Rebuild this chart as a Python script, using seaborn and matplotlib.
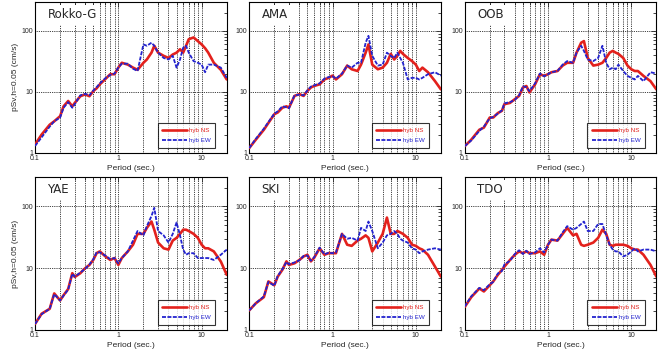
import matplotlib
matplotlib.use("Agg")
import matplotlib.pyplot as plt
import pandas as pd
import seaborn as sns
from matplotlib.ticker import FixedLocator, LogLocator, NullFormatter, FixedFormatter

# periods (sec.) shared by every spectrum
period = [0.1, 0.12, 0.15, 0.17, 0.2, 0.22, 0.25, 0.28, 0.3, 0.35, 0.4, 0.45, 0.5,
          0.55, 0.6, 0.7, 0.8, 0.9, 1.0, 1.1, 1.3, 1.5, 1.7, 2.0, 2.2, 2.5, 2.7, 3.0,
          3.5, 4.0, 4.5, 5.0, 5.5, 6.0, 6.5, 7.0, 8.0, 9.0, 10, 11, 12, 14, 17, 20]

rokko_ns = [1.37, 2.0, 2.9, 3.3, 4.0, 5.8, 7.1, 5.8, 6.6, 8.5, 9.1, 8.5, 10.3, 11.5, 13.3,
            16.3, 19.5, 19.5, 25, 30, 28, 25, 23, 30, 34, 44, 57, 44, 39, 36, 41, 44, 50,
            44, 57, 73, 78, 68, 60, 52, 44, 30, 23, 16]
rokko_ew = [1.3, 1.8, 2.7, 3.3, 3.8, 5.5, 6.8, 5.5, 6.3, 8.8, 9.3, 8.8, 10.5, 12, 13.8,
            16.8, 19, 20, 25, 29, 29, 24, 22, 60, 57, 64, 57, 44, 36, 34, 39, 25, 34,
            53, 57, 44, 32, 30, 28, 21, 28, 28, 25, 17]

ama_ns = [1.2, 1.65, 2.4, 3.1, 4.3, 4.6, 5.5, 5.8, 5.5, 8.6, 9.2, 8.6, 10.4, 11.8, 12.5,
          13.3, 16, 17, 18.5, 16, 19.5, 27, 23.5, 22, 28, 44, 60, 28, 23.5, 25, 30, 42,
          34, 39, 47, 42, 36, 32, 28, 22, 25, 21, 15, 11]
ama_ew = [1.2, 1.7, 2.5, 3.2, 4.4, 4.8, 5.8, 5.6, 5.4, 8.8, 9.0, 8.8, 10.6, 12.2, 12.8,
          13.8, 16.5, 17.5, 18.0, 16.5, 20, 27, 25, 30, 30, 64, 83, 39, 27, 28, 44, 39,
          36, 44, 36, 30, 16, 17, 17, 16, 17, 19.5, 21, 18.5]

oob_ns = [1.29, 1.65, 2.4, 2.6, 3.8, 3.8, 4.5, 4.9, 6.3, 6.6, 7.6, 8.6, 11.8, 12.5, 9.8,
          13.3, 19.5, 18.3, 19.5, 21, 22, 27, 30, 30, 44, 64, 68, 36, 27, 28, 30, 36,
          44, 47, 44, 42, 36, 27, 23.5, 22, 22, 18.3, 15, 11]
oob_ew = [1.29, 1.6, 2.3, 2.7, 3.7, 3.9, 4.4, 5.0, 6.5, 6.8, 7.4, 8.8, 12.3, 12.0, 10.3,
          13.8, 20, 18.0, 19.5, 21, 22, 28, 32, 30, 44, 57, 47, 34, 32, 36, 57, 30,
          23.5, 25, 23.5, 28, 22, 18.3, 17, 16, 18.3, 15, 21, 20]

yae_ns = [1.25, 1.83, 2.2, 3.9, 3.0, 3.65, 4.6, 8.3, 7.2, 8.3, 10, 11.3, 13.6, 17.6,
          18.7, 15.5, 13.6, 14.6, 11.3, 14.6, 18.7, 24, 36, 36, 45, 57, 42, 26, 21, 20,
          28, 31, 36, 42, 42, 40, 36, 31, 24, 21, 21, 18.7, 12.8, 7.8]
yae_ew = [1.25, 1.8, 2.2, 3.8, 3.0, 3.6, 4.5, 8.1, 7.3, 8.5, 9.8, 11.5, 13.9, 18.2, 18.0,
          16.0, 14.0, 14.6, 12, 14.6, 18.7, 28, 40, 34, 48, 70, 95, 40, 34, 26, 36, 55,
          34, 20, 16.5, 17.5, 17.5, 14.6, 14.6, 14.6, 14.6, 13.6, 16.5, 20]

ski_ns = [2.07, 2.7, 3.4, 6.1, 5.3, 7.3, 9.4, 12.9, 11.3, 12, 13.6, 15.5, 16.5, 12.9, 14.6,
          21, 16.5, 17.5, 17.5, 17.5, 36, 24, 23, 28, 30, 34, 31, 18.7, 26, 36, 66, 36,
          36, 40, 38, 36, 31, 24, 23, 21, 20, 16.5, 10.6, 7.3]
ski_ew = [2.07, 2.7, 3.5, 6.0, 5.2, 7.5, 9.6, 12.6, 11.6, 12.4, 13.4, 15.8, 16.0, 13.2,
          14.9, 21.5, 16.8, 17.8, 17.5, 18, 36, 30, 31, 28, 45, 40, 57, 40, 21, 26, 34,
          36, 40, 36, 30, 28, 26, 21, 20, 17.5, 18.7, 20, 21, 20]

tdo_ns = [2.35, 3.4, 4.7, 4.2, 5.3, 6.1, 7.8, 9.4, 10.6, 13.6, 16.5, 18.7, 17.5, 18.7,
          17.5, 17.5, 18.7, 16.5, 24, 29, 28, 36, 45, 34, 36, 24, 23, 24, 26, 31, 42,
          36, 24, 23, 24, 24, 24, 23, 21, 20, 20, 16.5, 11.3, 7.3]
tdo_ew = [2.4, 3.5, 4.8, 4.4, 5.5, 6.0, 8.2, 9.0, 11.5, 13.2, 17.0, 19.5, 17.0, 19.2,
          17.0, 18.0, 21, 18.0, 24, 29, 28, 38, 48, 42, 45, 52, 57, 40, 40, 52, 52,
          34, 24, 20, 18.7, 18.7, 15.5, 16.5, 18.7, 21, 18.7, 20, 20, 18.7]

stations = ["Rokko-G", "AMA", "OOB", "YAE", "SKI", "TDO"]
ns_series = [rokko_ns, ama_ns, oob_ns, yae_ns, ski_ns, tdo_ns]
ew_series = [rokko_ew, ama_ew, oob_ew, yae_ew, ski_ew, tdo_ew]

sns.set_style("white")
plt.rcParams["font.family"] = ["Liberation Sans", "DejaVu Sans"]

fig = plt.figure(figsize=(6.61, 3.54), dpi=100)
lefts = [0.053, 0.377, 0.703]
rows = [(0.568, 0.427), (0.068, 0.432)]

for i, name in enumerate(stations):
    bottom, height = rows[i // 3]
    ax = fig.add_axes([lefts[i % 3], bottom, 0.29, height])
    df = pd.DataFrame({"period": period, "NS": ns_series[i], "EW": ew_series[i]})
    sns.lineplot(data=df, x="period", y="NS", ax=ax, color="#e3211c", lw=1.9,
                 label="hyb NS", zorder=3)
    sns.lineplot(data=df, x="period", y="EW", ax=ax, color="#2323cf", lw=1.3,
                 ls=(0, (2.2, 0.8)), label="hyb EW", zorder=4)
    ax.set(xscale="log", yscale="log", xlim=(0.1, 20), ylim=(1, 300))

    ax.xaxis.set_major_locator(FixedLocator([0.1, 1, 10]))
    ax.xaxis.set_major_formatter(FixedFormatter(["0.1", "1", "10"]))
    ax.xaxis.set_minor_locator(LogLocator(base=10, subs=range(2, 10)))
    ax.xaxis.set_minor_formatter(NullFormatter())
    ax.yaxis.set_major_locator(FixedLocator([1, 10, 100]))
    ax.yaxis.set_major_formatter(FixedFormatter(["1", "10", "100"]))
    ax.yaxis.set_minor_locator(LogLocator(base=10, subs=range(2, 10)))
    ax.yaxis.set_minor_formatter(NullFormatter())
    ax.tick_params(which="both", direction="in", top=True, right=True,
                   labelsize=5, pad=1.5, width=0.6)
    ax.tick_params(which="major", length=3.5)
    ax.tick_params(which="minor", length=2)

    ax.grid(True, axis="x", which="both", color="black", ls=(0, (1, 1.2)), lw=0.6)
    ax.grid(True, axis="y", which="major", color="black", ls=(0, (1, 1.2)), lw=0.6)
    for s in ax.spines.values():
        s.set_color("black")
        s.set_linewidth(0.8)

    ax.set_xlabel("Period (sec.)", fontsize=6, labelpad=2)
    if i % 3 == 0:
        ax.set_ylabel("pSv,h=0.05 (cm/s)", fontsize=6, labelpad=2)
    else:
        ax.set_ylabel("")

    ax.text(0.065, 0.915, name, transform=ax.transAxes, fontsize=8.5,
            family=["DejaVu Sans"], ha="left", va="center", zorder=2.5,
            bbox=dict(boxstyle="square,pad=0.3", fc="white", ec="none"))

    leg = ax.legend(loc="lower right", bbox_to_anchor=(0.94, 0.035), fontsize=4.5,
                    frameon=True, fancybox=False, handlelength=4, borderaxespad=0,
                    borderpad=0.7, labelspacing=0.8, handletextpad=0.3)
    leg.get_frame().set_edgecolor("black")
    leg.get_frame().set_linewidth(0.8)
    for txt, line in zip(leg.get_texts(), leg.get_lines()):
        txt.set_color(line.get_color())

fig.savefig("out.png", dpi=100)
